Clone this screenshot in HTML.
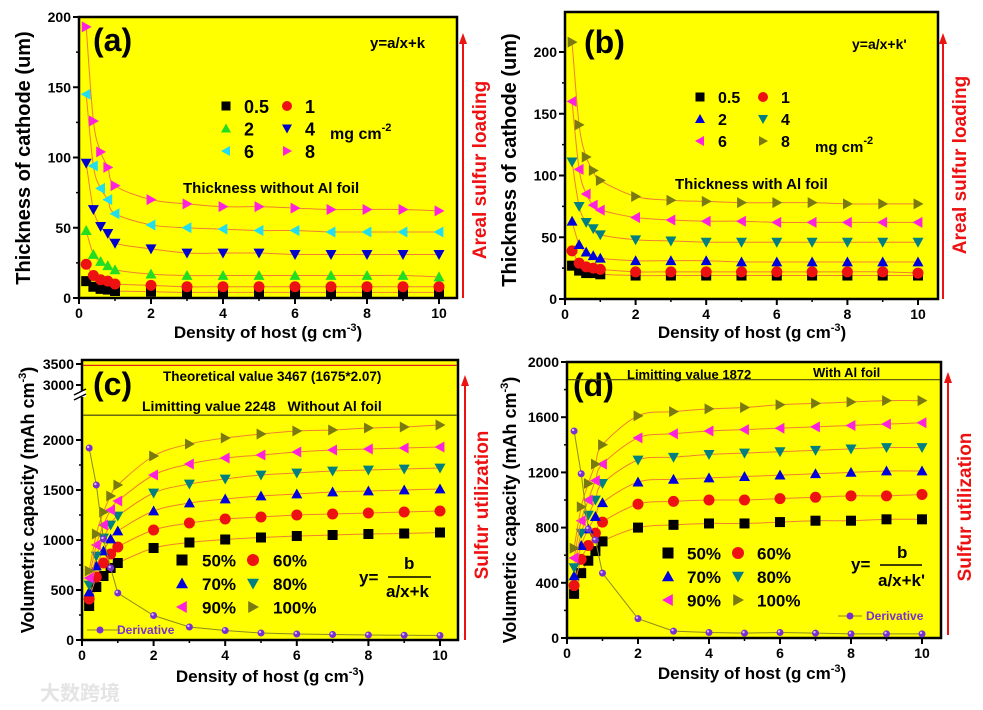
<!DOCTYPE html>
<html><head><meta charset="utf-8"><style>
body{margin:0;background:#fff;}
svg{display:block;font-family:"Liberation Sans","Noto Sans CJK SC",sans-serif;font-weight:bold;}
</style></head><body>
<svg id="s" width="983" height="710" viewBox="0 0 983 710" xmlns="http://www.w3.org/2000/svg"></svg>
<script>
const xVals=[0.2,0.4,0.6,0.8,1,2,3,4,5,6,7,8,9,10];
const xTicks=[0,2,4,6,8,10];
// panel a
const aLabels=["0.5","1","2","4","6","8"];
const aS05=[12,8,6.5,6,5,4.5,4,4,4,4,4,4,4,4];
const aS1=[24,16,13,12,10,9,8,8,8,8,8,8,8,8];
const aS2=[48,31,26,23,20,17,16,16,16,16,16,16,16,15];
const aS4=[96,63,51,46,39,35,32,32,32,31,31,31,31,31];
const aS6=[145,94,78,70,60,52,50,49,48,48,47,47,47,47];
const aS8=[193,126,104,93,80,70,67,65,65,64,63,63,63,62];
const aTicks=[0,50,100,150,200];
// panel b
const bS05=[27,23,21,21,20,19,19,19,19,19,19,19,19,19];
const bS1=[39,29,26,25,24,22,22,22,22,22,22,22,22,21];
const bS2=[63,44,38,35,33,31,31,31,30,30,30,30,30,30];
const bS4=[111,75,62,57,52,48,47,46,46,46,46,46,46,46];
const bS6=[160,105,85,76,72,66,64,63,63,62,62,62,62,62];
const bS8=[208,141,115,104,96,83,80,79,78,78,78,77,77,77];
const bTicks=[0,50,100,150,200];
// panel c
const pctLabels=["50%","60%","70%","80%","90%","100%"];
const c50=[340,530,640,720,770,920,975,1005,1025,1040,1050,1060,1065,1075];
const c60=[410,630,770,860,930,1100,1170,1210,1230,1250,1260,1270,1280,1290];
const c70=[480,740,890,1010,1090,1290,1370,1410,1440,1460,1480,1490,1500,1510];
const c80=[550,840,1020,1150,1240,1470,1560,1610,1650,1670,1690,1700,1710,1720];
const c90=[620,950,1150,1300,1390,1650,1760,1820,1850,1880,1900,1910,1920,1930];
const c100=[690,1060,1280,1440,1550,1840,1960,2020,2060,2090,2100,2120,2130,2150];
const cDeriv=[1920,1550,1010,720,470,245,130,95,70,60,55,50,48,45];
const cTicks=[0,500,1000,1500,2000,3000,3500];
const cTheo=3467, cLimit=2248;
// panel d
const d50=[320,470,560,630,700,800,820,830,830,840,850,850,860,860];
const d60=[380,570,670,760,840,970,990,1000,1000,1010,1020,1030,1030,1040];
const d70=[450,670,790,880,980,1130,1150,1160,1170,1180,1190,1200,1210,1210];
const d80=[510,760,890,1000,1120,1290,1310,1330,1340,1350,1360,1370,1380,1380];
const d90=[580,850,1000,1140,1260,1450,1480,1500,1510,1520,1530,1540,1550,1560];
const d100=[650,950,1120,1260,1400,1610,1640,1660,1670,1690,1700,1710,1720,1720];
const dDeriv=[1500,1190,790,710,470,140,50,40,35,40,35,30,30,30];
const dTicks=[0,400,800,1200,1600,2000];
const dLimit=1872;

const NS="http://www.w3.org/2000/svg";
const svg=document.getElementById('s');
function mk(tag,attrs,parent,txt){const e=document.createElementNS(NS,tag);for(const k in attrs)e.setAttribute(k,attrs[k]);if(txt!==undefined)e.textContent=txt;(parent||svg).appendChild(e);return e;}
const COLS=["#000","#ee1111","#0000dd","#008080","#ff22dd","#7a7a10"];
const COLS_A=["#000","#ee1111","#22dd22","#0000cc","#22ddee","#ff22dd"];
const SHP=["sq","circ","up","down","left","right"];
function marker(g,t,x,y,c,s){
  s=s||5.5;let e;
  if(t=="sq")e=mk('rect',{x:x-s+0.5,y:y-s+0.5,width:2*s-1,height:2*s-1,fill:c},g);
  else if(t=="circ")e=mk('circle',{cx:x,cy:y,r:s,fill:c},g);
  else{let p;
    if(t=="up")p=[[x,y-s],[x+s,y+s*0.8],[x-s,y+s*0.8]];
    if(t=="down")p=[[x,y+s],[x+s,y-s*0.8],[x-s,y-s*0.8]];
    if(t=="left")p=[[x-s,y],[x+s*0.8,y-s],[x+s*0.8,y+s]];
    if(t=="right")p=[[x+s,y],[x-s*0.8,y-s],[x-s*0.8,y+s]];
    e=mk('polygon',{points:p.map(q=>q.join(',')).join(' '),fill:c},g);}
  return e;
}
function smooth(pts){
  let d="M"+pts[0][0]+","+pts[0][1];
  for(let i=0;i<pts.length-1;i++){
    const p0=pts[Math.max(0,i-1)],p1=pts[i],p2=pts[i+1],p3=pts[Math.min(pts.length-1,i+2)];
    d+=" C"+(p1[0]+(p2[0]-p0[0])/6)+","+(p1[1]+(p2[1]-p0[1])/6)+" "+(p2[0]-(p3[0]-p1[0])/6)+","+(p2[1]-(p3[1]-p1[1])/6)+" "+p2[0]+","+p2[1];
  }
  return d;
}
function panel(P){
  const cols=P.cols||COLS;
  const g=mk('g',{});
  
  
  const X=v=>P.x0+(v)*(P.x10-P.x0)/10;
  const bg=mk('rect',{x:P.L,y:P.T,width:P.R-P.L,height:P.B-P.T,fill:"#ffff00",stroke:"#000","stroke-width":2.5},g);
  
  
  xTicks.forEach((t,i)=>{
    mk('line',{x1:X(t),x2:X(t),y1:P.B,y2:P.B+6,stroke:"#000","stroke-width":2},g);
    if(i<xTicks.length-1)mk('line',{x1:X(t+1),x2:X(t+1),y1:P.B,y2:P.B+3,stroke:"#000","stroke-width":1.5},g);
    const tl=mk('text',{x:X(t),y:P.B+20,"font-size":14,"text-anchor":"middle"},g,t);
    
    
  });
  P.yTicks.forEach((t,i)=>{
    const y=P.Y(t);
    mk('line',{x1:P.L-6,x2:P.L,y1:y,y2:y,stroke:"#000","stroke-width":2},g);
    if(P.minor&&i<P.yTicks.length-1&&!(P.noMinorAbove&&t>=P.noMinorAbove))mk('line',{x1:P.L-3,x2:P.L,y1:P.Y(t+P.minor),y2:P.Y(t+P.minor),stroke:"#000","stroke-width":1.5},g);
    const tl=mk('text',{x:P.L-8,y:y+5,"font-size":14,"text-anchor":"end"},g,t);
    
    
  });
  const xt=mk('text',{x:P.xtx,y:P.xty,"font-size":17,"text-anchor":"middle"},g);
  
  
  xt.innerHTML='Density of host (g cm<tspan dy="-7" font-size="11">-3</tspan><tspan dy="7">)</tspan>';
  const yt=mk('text',{x:0,y:0,"font-size":P.ytSize||19,"text-anchor":"middle",transform:`translate(${P.ytx},${P.yty}) rotate(-90)`},g);
  
  
  yt.innerHTML=P.ytitle;
  mk('line',{x1:P.ax,x2:P.ax,y1:P.ay1,y2:P.ay2+8,stroke:"#ee1111","stroke-width":2},g);
  mk('polygon',{points:`${P.ax},${P.ay2} ${P.ax-4},${P.ay2+11} ${P.ax+4},${P.ay2+11}`,fill:"#ee1111"},g);
  const rl=mk('text',{x:0,y:0,"font-size":19,fill:"#ee1111","text-anchor":"middle",transform:`translate(${P.rlx},${P.rly}) rotate(-90)`},g,P.rlabel);
  
  
  P.series.forEach((s,i)=>{
    const sg=mk('g',{},g);
    
    
    const pts=s.map((v,j)=>[X(xVals[j]),P.Y(v)]);
    mk('path',{d:smooth(pts),fill:"none",stroke:"#f08030","stroke-width":1},sg);
    pts.forEach(p=>{const m=marker(sg,SHP[i],p[0],p[1],cols[i]);});
  });
  if(P.deriv){
    const dg=mk('g',{},g);
    
    
    const pts=P.deriv.map((v,j)=>[X(xVals[j]),P.Y(v)]);
    mk('polyline',{points:pts.map(p=>p.join(',')).join(' '),fill:"none",stroke:"#8a8a20","stroke-width":1},dg);
    pts.forEach(p=>{mk('circle',{cx:p[0],cy:p[1],r:3.5,fill:"#7a30d0"},dg);mk('circle',{cx:p[0]-1,cy:p[1]-1,r:1.2,fill:"#d8c0ff"},dg);});
  }
  const lg=mk('g',{},g);
  
  
  P.labels.forEach((l,i)=>{
    const col=i%2,row=Math.floor(i/2);
    const mx=P.lgx+col*P.lgdx,my=P.lgy+row*P.lgdy;
    marker(lg,SHP[i],mx,my,cols[i],P.lgs||5);
    const t=mk('text',{x:mx+P.lgtx,y:my+P.lgf*0.38,"font-size":P.lgf},lg,l);
    
    
  });
  const pl=mk('text',{x:P.plx,y:P.ply,"font-size":32},g,P.plabel);
  
  
  return {g,X};
}
function txt(g,x,y,size,s,name,attrs){const t=mk('text',Object.assign({x:x,y:y,"font-size":size},attrs||{}),g);t.innerHTML=s;return t;}

const A=panel({name:'panel-a',cols:COLS_A,L:79,R:457,T:17,B:298,x0:79,x10:439,Y:v=>298-v*1.405,yTicks:aTicks,minor:25,
 xtx:268,xty:338,ytx:30,yty:158,ytSize:20,ytitle:'Thickness of cathode (um)',ax:463,ay1:298,ay2:33,rlx:486,rly:170,rlabel:'Areal sulfur loading',
 series:[aS05,aS1,aS2,aS4,aS6,aS8],labels:aLabels,lgx:226,lgy:106,lgdx:61,lgdy:22.5,lgtx:18,lgf:18,plx:93,ply:51,plabel:'(a)'});
txt(A.g,330,139,16,'mg cm<tspan dy="-8" font-size="11">-2</tspan>','unit-label');
txt(A.g,183,193,15,'Thickness without Al foil','annotation');
txt(A.g,370,48,15,'y=a/x+k','equation');
const B=panel({name:'panel-b',L:565,R:938,T:12,B:299,x0:565,x10:918,Y:v=>299-v*1.235,yTicks:bTicks,minor:25,
 xtx:752,xty:338,ytx:516,yty:160,ytSize:20,ytitle:'Thickness of cathode (um)',ax:943,ay1:299,ay2:33,rlx:966,rly:165,rlabel:'Areal sulfur loading',
 series:[bS05,bS1,bS2,bS4,bS6,bS8],labels:aLabels,lgx:700,lgy:97,lgdx:63,lgdy:22,lgtx:18,lgf:16,plx:584,ply:53,plabel:'(b)'});
txt(B.g,815,152,15,'mg cm<tspan dy="-8" font-size="11">-2</tspan>','unit-label');
txt(B.g,675,189,15,'Thickness with Al foil','annotation');
txt(B.g,852,49,14,"y=a/x+k'",'equation');
const Yc=v=>v<=2500?640-v*0.1:385-(v-3000)*0.042;
const C=panel({name:'panel-c',L:82,R:458,T:360,B:640,x0:82,x10:440,Y:Yc,yTicks:cTicks,minor:250,noMinorAbove:2000,
 xtx:270,xty:682,ytx:34,yty:500,ytSize:18,ytitle:'Volumetric capacity (mAh cm<tspan dy="-8" font-size="11">-3</tspan><tspan dy="8">)</tspan>',ax:465,ay1:640,ay2:375,rlx:488,rly:505,rlabel:'Sulfur utilization',
 series:[c50,c60,c70,c80,c90,c100],labels:pctLabels,lgx:182,lgy:560,lgdx:71,lgdy:23.5,lgtx:20,lgf:17,lgs:6,plx:93,ply:395,plabel:'(c)',deriv:cDeriv});
mk('line',{x1:83,x2:457,y1:Yc(cTheo),y2:Yc(cTheo),stroke:"#dd2222","stroke-width":1.2},C.g);
mk('line',{x1:83,x2:457,y1:Yc(cLimit),y2:Yc(cLimit),stroke:"#6a6a10","stroke-width":1.5},C.g);
mk('rect',{x:74,y:391,width:12,height:6,fill:"#fff"},C.g);
mk('line',{x1:74,x2:86,y1:395,y2:389,stroke:"#000","stroke-width":1.5},C.g);
mk('line',{x1:74,x2:86,y1:400,y2:394,stroke:"#000","stroke-width":1.5},C.g);
txt(C.g,163,381,13.5,'Theoretical value 3467 (1675*2.07)','theoretical-value-label');
txt(C.g,142,411,14,'Limitting value 2248&#160;&#160;&#160;Without Al foil','limit-value-label');
txt(C.g,359,583,17,'y=','equation');
txt(C.g,404,569,17,'b','equation');
mk('line',{x1:388,x2:431,y1:577,y2:577,stroke:"#000","stroke-width":1.5},C.g);
txt(C.g,386,597,17,'a/x+k','equation');
mk('line',{x1:87,x2:120,y1:630,y2:630,stroke:"#8a8a20","stroke-width":1},C.g);
mk('circle',{cx:100,cy:630,r:3.5,fill:"#7a30d0"},C.g);
txt(C.g,117,634,12,'Derivative','derivative-legend',{fill:"#7a30d0"});
const Yd=v=>638-v*0.138;
const D=panel({name:'panel-d',L:567,R:941,T:362,B:638,x0:567,x10:922,Y:Yd,yTicks:dTicks,minor:200,
 xtx:752,xty:679,ytx:516,yty:510,ytSize:18,ytitle:'Volumetric capacity (mAh cm<tspan dy="-8" font-size="11">-3</tspan><tspan dy="8">)</tspan>',ax:948,ay1:635,ay2:372,rlx:971,rly:507,rlabel:'Sulfur utilization',
 series:[d50,d60,d70,d80,d90,d100],labels:pctLabels,lgx:668,lgy:553,lgdx:70,lgdy:23.5,lgtx:19,lgf:17,lgs:6,plx:573,ply:396,plabel:'(d)',deriv:dDeriv});
mk('line',{x1:568,x2:940,y1:Yd(dLimit),y2:Yd(dLimit),stroke:"#4a4a10","stroke-width":1.2},D.g);
txt(D.g,627,379,13,'Limitting value 1872','limit-value-label');
txt(D.g,813,377,13,'With Al foil','annotation');
txt(D.g,851,570,17,'y=','equation');
txt(D.g,897,558,17,'b','equation');
mk('line',{x1:880,x2:922,y1:565,y2:565,stroke:"#000","stroke-width":1.5},D.g);
txt(D.g,878,586,17,"a/x+k'",'equation');
mk('line',{x1:838,x2:862,y1:616,y2:616,stroke:"#8a8a20","stroke-width":1},D.g);
mk('circle',{cx:850,cy:616,r:3.5,fill:"#7a30d0"},D.g);
txt(D.g,866,620,12,'Derivative','derivative-legend',{fill:"#7a30d0"});
const wm=mk('text',{x:40,y:700,"font-size":20,fill:"#e4e4e4"},svg,'大数跨境');


</script>
</body></html>
